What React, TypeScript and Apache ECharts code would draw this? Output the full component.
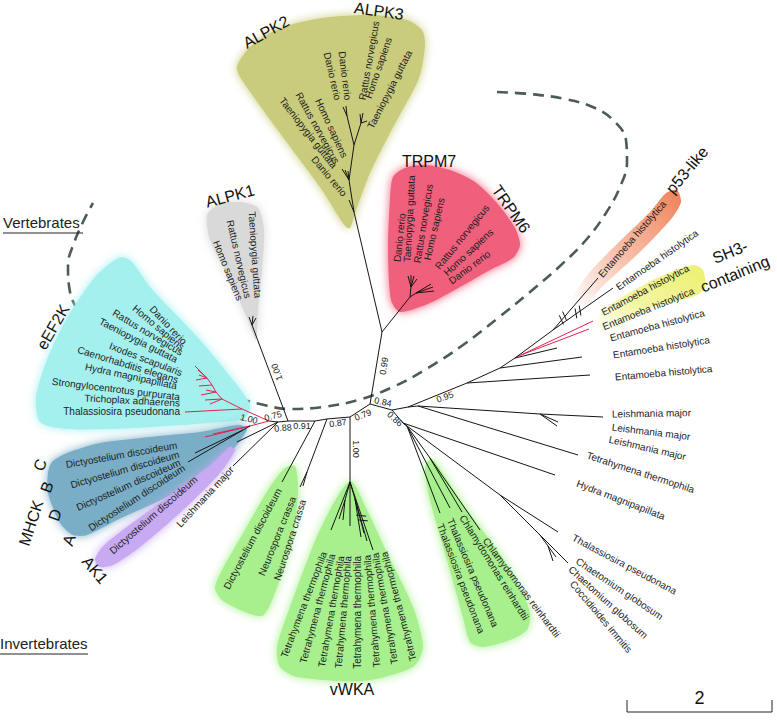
import React, { useEffect, useRef } from "react";
import * as echarts from "echarts";

const FONT = '"Liberation Sans", Arial, Helvetica, sans-serif';

// Tree layout: node id, x, y
const nodes: [string, number, number][] = [
  ["J1", 288, 421], ["J0", 278, 422], ["R0", 269, 421], ["B1", 315, 421], ["J2", 327, 419],
  ["J3", 350, 417], ["J4", 370, 404], ["J5", 382, 332], ["J6", 392, 410], ["E0", 408, 407], ["J7", 403, 423],
  ["P1", 252, 325], ["p1a", 249, 317], ["p1b", 253, 316], ["p1c", 256, 318],
  ["Q0", 242, 409], ["Q1", 222, 399], ["Q2", 216, 392], ["Q3", 212, 385], ["Q4", 207, 378],
  ["k1", 195, 366], ["k2", 198, 370], ["k3", 199, 375], ["k4", 196, 380], ["k5", 199, 386],
  ["k6", 206, 390], ["k7", 201, 395], ["k8", 205, 400], ["k9", 210, 404], ["k10", 185, 412],
  ["M0", 250, 426], ["m1", 205, 437], ["m2", 213, 434], ["M2", 243, 430], ["m3", 195, 453], ["m4", 188, 462],
  ["ak", 237, 442], ["lm", 233, 466],
  ["d1", 282, 482], ["N0", 307, 472], ["n1", 300, 487], ["n2", 303, 486],
  ["V0", 350, 482], ["V1", 345, 500], ["V2", 355, 499],
  ["v1", 331, 530], ["v2", 339, 519], ["v3", 343, 520], ["v4", 350, 526], ["v5", 361, 537], ["v6", 364, 533], ["v7", 373, 550], ["v8", 367, 541],
  ["T0", 410, 297], ["T7", 411, 287], ["T6", 416, 293],
  ["t1", 408, 276], ["t2", 411, 275], ["t3", 414, 276], ["t4", 417, 279], ["t5", 433, 287], ["t6", 431, 284], ["t7", 434, 291],
  ["A1", 354, 212], ["A2", 349, 180], ["A3", 354, 145], ["A4", 347, 116], ["A5", 361, 123],
  ["a1", 342, 169], ["a2", 345, 170], ["a3", 348, 171], ["a4", 349, 200],
  ["a5", 343, 107], ["a6", 346, 106], ["a7", 360, 114], ["a8", 363, 113], ["a9", 367, 121],
  ["E1", 467, 383], ["E2", 500, 368], ["E3", 515, 358], ["E3r", 521, 355], ["E4", 553, 330],
  ["e1", 598, 278], ["e2", 613, 288], ["e3", 593, 321], ["e4", 589, 329], ["e5", 557, 348], ["e6", 582, 357], ["e7", 590, 375],
  ["K1", 418, 406], ["L0", 540, 414], ["l1", 603, 417], ["l2", 557, 426], ["l3", 558, 422],
  ["tt", 578, 455], ["hy", 555, 475],
  ["C1", 500, 495], ["tp", 558, 532], ["C2", 540, 535], ["C3", 548, 546], ["cg1", 568, 563], ["cg2", 556, 557], ["ci", 553, 561],
  ["G0", 407, 426], ["G1", 430, 458], ["gt2", 440, 513], ["gt1", 450, 508], ["gc1", 462, 512], ["gc2", 480, 530],
];

// parent, child, 1 = red (highlighted) branch
const edges: [string, string, number][] = [
  ["J1", "J0", 0], ["J0", "R0", 0], ["J1", "B1", 0], ["B1", "J2", 0], ["J2", "J3", 0], ["J3", "J4", 0],
  ["J4", "J5", 0], ["J4", "J6", 0], ["J6", "E0", 0], ["J6", "J7", 0],
  ["J1", "P1", 0], ["P1", "p1a", 0], ["P1", "p1b", 0], ["P1", "p1c", 0],
  ["R0", "Q0", 1], ["Q0", "k10", 1], ["Q0", "Q1", 1], ["Q1", "k8", 1], ["Q1", "k9", 1], ["Q1", "Q2", 1],
  ["Q2", "k6", 1], ["Q2", "k7", 1], ["Q2", "Q3", 1], ["Q3", "k5", 1], ["Q3", "Q4", 1],
  ["Q4", "k1", 1], ["Q4", "k2", 1], ["Q4", "k3", 1], ["Q4", "k4", 1],
  ["R0", "M0", 1], ["M0", "m1", 1], ["M0", "m2", 1], ["M0", "M2", 0], ["M2", "m3", 0], ["M2", "m4", 0],
  ["J0", "ak", 0], ["J0", "lm", 0],
  ["B1", "d1", 0], ["J2", "N0", 0], ["N0", "n1", 0], ["N0", "n2", 0],
  ["J3", "V0", 0], ["V0", "v1", 0], ["V0", "V1", 0], ["V1", "v2", 0], ["V1", "v3", 0], ["V0", "v4", 0],
  ["V0", "V2", 0], ["V2", "v5", 0], ["V2", "v6", 0], ["V2", "v8", 0], ["V0", "v7", 0],
  ["J5", "T0", 0], ["T0", "T7", 0], ["T7", "t1", 0], ["T7", "t2", 0], ["T7", "t3", 0], ["T7", "t4", 0],
  ["T0", "T6", 0], ["T6", "t5", 0], ["T6", "t6", 0], ["T6", "t7", 0],
  ["J5", "A1", 0], ["A1", "a4", 0], ["A1", "A2", 0], ["A2", "a1", 0], ["A2", "a2", 0], ["A2", "a3", 0],
  ["A2", "A3", 0], ["A3", "A4", 0], ["A4", "a5", 0], ["A4", "a6", 0], ["A3", "A5", 0], ["A5", "a7", 0], ["A5", "a8", 0], ["A5", "a9", 0],
  ["E0", "E1", 0], ["E1", "e7", 0], ["E1", "E2", 0], ["E2", "e6", 0], ["E2", "E3", 0], ["E3", "e5", 0],
  ["E3", "E3r", 1], ["E3r", "e3", 1], ["E3r", "e4", 1], ["E3", "E4", 0], ["E4", "e1", 0], ["E4", "e2", 0],
  ["E0", "K1", 0], ["K1", "L0", 0], ["L0", "l1", 0], ["L0", "l2", 0], ["L0", "l3", 0], ["K1", "tt", 0],
  ["J7", "hy", 0], ["J7", "C1", 0], ["C1", "tp", 0], ["C1", "C2", 0], ["C2", "cg1", 0], ["C2", "C3", 0], ["C3", "cg2", 0], ["C3", "ci", 0],
  ["J7", "G0", 0], ["G0", "gt2", 0], ["G0", "gt1", 0], ["G0", "G1", 0], ["G1", "gc1", 0], ["G1", "gc2", 0],
];

// leaf name, anchor x, anchor y, angle (deg, counter-clockwise), side of anchor
const leafLabels: [string, number, number, number, string][] = [
  ["Danio rerio", 185, 343, -47, "r"],
  ["Homo sapiens", 183, 348, -40, "r"],
  ["Rattus norvegicus", 182, 353, -31, "r"],
  ["Taeniopygia guttata", 177, 360, -27, "r"],
  ["Ixodes scapularis", 182, 373, -21, "r"],
  ["Caenorhabditis elegans", 178, 380, -17, "r"],
  ["Hydra magnipapillata", 177, 386, -12, "r"],
  ["Strongylocentrotus purpurata", 180, 397, -7, "r"],
  ["Trichoplax adhaerens", 180, 403, -3, "r"],
  ["Thalassiosira pseudonana", 180, 411, 0, "r"],
  ["Dictyostelium discoideum", 177, 445, 10, "r"],
  ["Dictyostelium discoideum", 179, 454, 16, "r"],
  ["Dictyostelium discoideum", 180, 462, 24, "r"],
  ["Dictyostelium discoideum", 184, 467, 33, "r"],
  ["Dictyostelium discoideum", 196, 478, 41, "r"],
  ["Leishmania major", 232, 468, 47, "r"],
  ["Dictyostelium discoideum", 279, 489, 62, "r"],
  ["Neurospora crassa", 293, 497, 68, "r"],
  ["Neurospora crassa", 303, 500, 72, "r"],
  ["Tetrahymena thermophila", 324, 552, 69, "r"],
  ["Tetrahymena thermophila", 332, 554, 75, "r"],
  ["Tetrahymena thermophila", 341, 556, 80, "r"],
  ["Tetrahymena thermophila", 348, 556, 85, "r"],
  ["Tetrahymena thermophila", 357, 556, 90, "r"],
  ["Tetrahymena thermophila", 367, 555, 95, "r"],
  ["Tetrahymena thermophila", 375, 553, 100, "r"],
  ["Tetrahymena thermophila", 384, 552, 105, "r"],
  ["Danio rerio", 397, 262, 84, "l"],
  ["Taeniopygia guttata", 407, 262, 87, "l"],
  ["Rattus norvegicus", 417, 263, 81, "l"],
  ["Homo sapiens", 427, 260, 77, "l"],
  ["Rattus norvegicus", 437, 268, 51, "l"],
  ["Homo sapiens", 445, 274, 43, "l"],
  ["Danio rerio", 450, 282, 37, "l"],
  ["Taeniopygia guttata", 258, 298, -86, "r"],
  ["Rattus norvegicus", 248, 298, -77, "r"],
  ["Homo sapiens", 240, 300, -68, "r"],
  ["Homo sapiens", 345, 157, -65, "r"],
  ["Rattus norvegicus", 337, 163, -61, "r"],
  ["Taeniopygia guttata", 335, 167, -52, "r"],
  ["Danio rerio", 345, 195, -50, "r"],
  ["Danio rerio", 348, 100, -83, "r"],
  ["Danio rerio", 338, 100, -77, "r"],
  ["Rattus norvegicus", 362, 100, 80, "l"],
  ["Homo sapiens", 368, 98, 71, "l"],
  ["Taeniopygia guttata", 370, 128, 63, "l"],
  ["Entamoeba histolytica", 600, 276, 49, "l"],
  ["Entamoeba histolytica", 617, 288, 35, "l"],
  ["Entamoeba histolytica", 602, 313, 28, "l"],
  ["Entamoeba histolytica", 603, 327, 22, "l"],
  ["Entamoeba histolytica", 610, 338, 15, "l"],
  ["Entamoeba histolytica", 613, 355, 9, "l"],
  ["Entamoeba histolytica", 615, 377, 5, "l"],
  ["Leishmania major", 612, 414, 1, "l"],
  ["Leishmania major", 612, 427, -7, "l"],
  ["Leishmania major", 609, 439, -13, "l"],
  ["Tetrahymena thermophila", 587, 455, -18, "l"],
  ["Hydra magnipapillata", 577, 483, -21, "l"],
  ["Thalassiosira pseudonana", 573, 537, -28, "l"],
  ["Chaetomium globosum", 577, 560, -34, "l"],
  ["Chaetomium globosum", 570, 568, -42, "l"],
  ["Coccidioides immitis", 572, 582, -50, "l"],
  ["Chlamydomonas reinhardtii", 462, 516, -58, "l"],
  ["Thalassiosira pseudonana", 450, 519, -67, "l"],
  ["Thalassiosira pseudonana", 440, 524, -69, "l"],
  ["Chlamydomonas reinhardtii", 485, 539, -53, "l"],
];

// clade name, x, y, angle
const cladeNames: [string, number, number, number][] = [
  ["ALPK2", 266, 32, 29], ["ALPK3", 379, 11, -8], ["TRPM7", 429, 161, 0], ["TRPM6", 511, 209, -55],
  ["ALPK1", 230, 196, 15], ["eEF2K", 53, 327, 60], ["MHCK", 31, 523, 72],
  ["C", 40, 465, 70], ["B", 47, 487, 70], ["D", 55, 515, 70], ["A", 69, 540, 70],
  ["AK1", 95, 570, -50], ["vWKA", 352, 689, 0], ["p53-like", 687, 170, 50],
  ["SH3-", 730, 252, 22], ["containing", 735, 274, 22],
];

// branch support, x, y, angle
const supportValues: [string, number, number, number][] = [
  ["1.00", 277, 372, 110], ["0.99", 384, 366, 80], ["1.00", 356, 449, -90], ["0.75", 273, 416, 15],
  ["1.00", 249, 419, -15], ["0.88", 283, 428, 5], ["0.91", 302, 426, 0], ["0.87", 338, 423, 8],
  ["0.79", 363, 415, 22], ["0.84", 383, 402, -12], ["0.95", 445, 397, 20], ["0.86", 395, 419, -42],
];

const hullOutlines: number[][][] = [
  [[237, 66], [250, 47], [270, 33], [297, 23], [330, 17], [370, 15], [407, 20], [422, 30], [425, 43], [422, 67], [417, 83], [390, 133], [370, 173], [355, 213], [350, 228], [345, 226], [320, 187], [280, 133], [240, 77]],
  [[393, 177], [405, 168], [425, 165], [450, 170], [475, 182], [497, 203], [515, 228], [520, 245], [513, 258], [490, 270], [460, 287], [430, 303], [400, 312], [391, 300], [388, 250], [390, 200]],
  [[207, 215], [218, 205], [240, 202], [258, 208], [264, 230], [262, 270], [258, 310], [256, 340], [248, 320], [230, 280], [210, 240]],
  [[112, 262], [122, 257], [132, 262], [150, 287], [200, 340], [233, 380], [250, 405], [245, 418], [233, 421], [133, 428], [67, 429], [40, 422], [36, 397], [47, 360], [67, 318], [95, 277]],
  [[52, 462], [67, 453], [100, 443], [150, 437], [200, 432], [240, 425], [247, 430], [217, 467], [167, 497], [117, 520], [87, 535], [73, 535], [60, 523], [48, 493], [48, 473]],
  [[95, 560], [100, 550], [110, 540], [150, 510], [187, 483], [213, 463], [230, 447], [235, 450], [220, 473], [183, 510], [140, 547], [113, 565], [100, 567]],
  [[285, 468], [295, 466], [298, 490], [294, 530], [283, 570], [270, 605], [262, 616], [245, 612], [222, 600], [215, 588], [222, 570], [245, 530], [268, 490]],
  [[350, 481], [367, 510], [387, 553], [413, 607], [423, 647], [413, 667], [363, 681], [297, 677], [280, 667], [277, 647], [290, 607], [320, 530]],
  [[427, 462], [433, 460], [447, 480], [467, 510], [497, 550], [520, 587], [530, 613], [527, 630], [510, 640], [483, 647], [470, 642], [463, 617], [447, 560], [430, 500], [425, 473]],
  [[573, 298], [590, 272], [620, 241], [650, 212], [666, 193], [677, 190], [681, 202], [672, 218], [642, 250], [604, 285], [584, 306]],
  [[597, 327], [603, 310], [653, 280], [693, 265], [703, 270], [705, 288], [693, 297], [653, 307], [613, 330], [600, 333]],
];
const hullColors = ["#c9cc7c", "#f0607b", "#d9d9d9", "#a3f0ee", "#7aaec7", "#c7aaf2", "#a8f08e", "#a8f08e", "#a8f08e", "#f28a62", "#eef27a"];

const dashedBoundary: number[][] = [
  [497, 92], [530, 94], [565, 99], [595, 108], [615, 122], [626, 140], [627, 162], [620, 187], [606, 213],
  [586, 240], [560, 266], [530, 292], [498, 318], [463, 345], [428, 368], [393, 387], [358, 400], [323, 407],
  [290, 409], [260, 404], [232, 396], [195, 382], [150, 362], [110, 340], [82, 315], [70, 292], [68, 265],
  [74, 243], [83, 222], [93, 203],
];

// branch breaks: x, y, branch angle
const hashMarks: [number, number, number][] = [[563, 318, 49], [578, 312, 35], [362, 518, -71]];

const groupTitles: [string, number, number, number][] = [["Vertebrates", 3, 222, 80], ["Invertebrates", 0, 643, 88]];

const scaleBarEnds = [627, 772];
const scaleBarY = 712;
const scaleBarLabel = "2";

export default function App() {
  const ref = useRef<HTMLDivElement>(null);
  useEffect(() => {
    document.body.style.margin = "0";
    const el = ref.current;
    if (!el) return;
    const chart = echarts.init(el, null, { renderer: "svg" });
    const pos: Record<string, number[]> = {};
    nodes.forEach(([id, x, y]) => { pos[id] = [x, y]; });
    const edgeData = edges.map(([a, b]) => [pos[a][0], pos[a][1], pos[b][0], pos[b][1]]);
    const txt = (text: string, size: number, align: string, fill = "#1d1d1d") => ({
      text, fill, fontSize: size, fontFamily: FONT, align, verticalAlign: "middle",
    });
    const deg = (d: number) => (d * Math.PI) / 180;

    const option: any = {
      animation: false,
      grid: { left: 0, right: 0, top: 0, bottom: 0 },
      xAxis: { type: "value", min: 0, max: 777, show: false },
      yAxis: { type: "value", min: 0, max: 724, inverse: true, show: false },
      series: [
        {
          type: "line", z: 1, silent: true, data: dashedBoundary, smooth: 0.4, symbol: "none",
          lineStyle: { color: "#4b5a5a", width: 2.6, type: [11, 7] },
        },
        {
          type: "custom", z: 2, silent: true, clip: false, data: hullOutlines.map((h) => h[0]),
          renderItem: (params: any, api: any) => {
            const i = params.dataIndex;
            const pts = hullOutlines[i].map((p) => api.coord(p));
            const c = hullColors[i];
            let fill: any = c;
            if (i === 9) {
              fill = new echarts.graphic.LinearGradient(0, 1, 1, 0, [
                { offset: 0, color: "rgba(242,138,98,0)" },
                { offset: 0.45, color: "rgba(242,138,98,0.55)" },
                { offset: 1, color: "rgba(240,128,88,1)" },
              ]);
            } else if (i === 10) {
              fill = new echarts.graphic.LinearGradient(0, 1, 1, 0, [
                { offset: 0, color: "rgba(238,242,122,0)" },
                { offset: 0.4, color: "rgba(238,242,122,0.7)" },
                { offset: 1, color: "rgba(236,240,110,1)" },
              ]);
            }
            return {
              type: "polygon",
              shape: { points: pts, smooth: 0.25 },
              style: i >= 9 ? { fill } : { fill, shadowBlur: 10, shadowColor: c },
            };
          },
        },
        {
          type: "custom", z: 3, silent: true, clip: false, data: edgeData,
          renderItem: (params: any, api: any) => {
            const p1 = api.coord([api.value(0), api.value(1)]);
            const p2 = api.coord([api.value(2), api.value(3)]);
            return {
              type: "line",
              shape: { x1: p1[0], y1: p1[1], x2: p2[0], y2: p2[1] },
              style: { stroke: edges[params.dataIndex][2] ? "#e5214f" : "#151515", lineWidth: 1 },
            };
          },
        },
        {
          type: "custom", z: 3, silent: true, clip: false, data: hashMarks.map((h) => [h[0], h[1]]),
          renderItem: (params: any, api: any) => {
            const h = hashMarks[params.dataIndex];
            const p = api.coord([h[0], h[1]]);
            const a = deg(h[2]);
            const b = deg(h[2] + 65);
            const children = [-2.5, 2.5].map((o) => {
              const cx = p[0] + o * Math.cos(a);
              const cy = p[1] - o * Math.sin(a);
              const dx = 5 * Math.cos(b);
              const dy = -5 * Math.sin(b);
              return {
                type: "line",
                shape: { x1: cx - dx, y1: cy - dy, x2: cx + dx, y2: cy + dy },
                style: { stroke: "#151515", lineWidth: 1 },
              };
            });
            return { type: "group", children };
          },
        },
        {
          type: "custom", z: 4, silent: true, clip: false, data: leafLabels.map((l) => [l[1], l[2]]),
          renderItem: (params: any, api: any) => {
            const l = leafLabels[params.dataIndex];
            const p = api.coord([l[1], l[2]]);
            return {
              type: "text", x: p[0], y: p[1], rotation: deg(l[3]),
              style: txt(l[0], 10, l[4] === "l" ? "left" : "right"),
            };
          },
        },
        {
          type: "custom", z: 4, silent: true, clip: false, data: supportValues.map((s) => [s[1], s[2]]),
          renderItem: (params: any, api: any) => {
            const s = supportValues[params.dataIndex];
            const p = api.coord([s[1], s[2]]);
            return { type: "text", x: p[0], y: p[1], rotation: deg(s[3]), style: txt(s[0], 9, "center", "#222") };
          },
        },
        {
          type: "custom", z: 4, silent: true, clip: false, data: cladeNames.map((s) => [s[1], s[2]]),
          renderItem: (params: any, api: any) => {
            const s = cladeNames[params.dataIndex];
            const p = api.coord([s[1], s[2]]);
            return { type: "text", x: p[0], y: p[1], rotation: deg(s[3]), style: txt(s[0], 16, "center", "#111") };
          },
        },
        {
          type: "custom", z: 4, silent: true, clip: false, data: groupTitles.map((g) => [g[1], g[2]]),
          renderItem: (params: any, api: any) => {
            const g = groupTitles[params.dataIndex];
            const p = api.coord([g[1], g[2]]);
            const e = api.coord([g[1] + g[3], g[2] + 11]);
            return {
              type: "group",
              children: [
                { type: "text", x: p[0], y: p[1], style: txt(g[0], 15, "left", "#222") },
                { type: "line", shape: { x1: p[0], y1: e[1], x2: e[0], y2: e[1] }, style: { stroke: "#222", lineWidth: 1 } },
              ],
            };
          },
        },
        {
          type: "custom", z: 4, silent: true, clip: false, data: [[scaleBarEnds[0], scaleBarY]],
          renderItem: (params: any, api: any) => {
            const a = api.coord([scaleBarEnds[0], scaleBarY]);
            const b = api.coord([scaleBarEnds[1], scaleBarY]);
            const top = api.coord([scaleBarEnds[0], scaleBarY - 12]);
            return {
              type: "group",
              children: [
                { type: "line", shape: { x1: a[0], y1: a[1], x2: b[0], y2: b[1] }, style: { stroke: "#222", lineWidth: 1 } },
                { type: "line", shape: { x1: a[0], y1: a[1], x2: a[0], y2: top[1] }, style: { stroke: "#222", lineWidth: 1 } },
                { type: "line", shape: { x1: b[0], y1: b[1], x2: b[0], y2: top[1] }, style: { stroke: "#222", lineWidth: 1 } },
                { type: "text", x: (a[0] + b[0]) / 2, y: top[1] - 2, style: txt(scaleBarLabel, 18, "center", "#111") },
              ],
            };
          },
        },
      ],
    };
    chart.setOption(option);
    return () => chart.dispose();
  }, []);
  return <div ref={ref} style={{ width: 777, height: 724, position: "absolute", left: 0, top: 0 }} />;
}
